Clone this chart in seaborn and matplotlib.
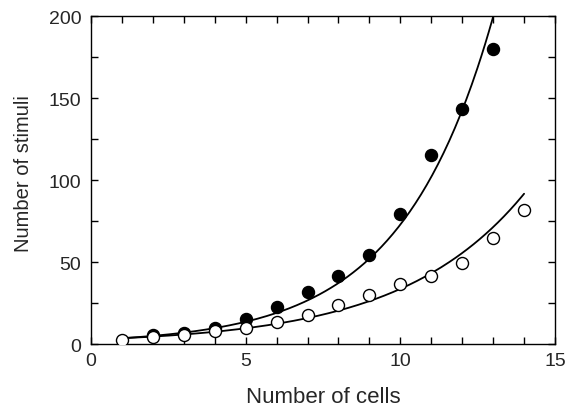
import numpy as np
import pandas as pd
import matplotlib
matplotlib.use("Agg")
import matplotlib.pyplot as plt
import seaborn as sns
from matplotlib.ticker import MultipleLocator

# Data
cells_filled = [2, 3, 4, 5, 6, 7, 8, 9, 10, 11, 12, 13]
stimuli_filled = [5.5, 7, 10, 15.5, 22.5, 31.5, 41.5, 54.5, 79.5, 115, 143, 180]
cells_open = [1, 2, 3, 4, 5, 6, 7, 8, 9, 10, 11, 12, 13, 14]
stimuli_open = [2.4, 4, 5.3, 8, 10, 13.3, 17.5, 23.7, 29.8, 36.5, 41.6, 49.5, 64.8, 82]

# Exponential fit curves y = a * exp(b * x), parameters
fit_filled_a, fit_filled_b, fit_filled_range = 2.53, 0.336, (1, 13.1)
fit_open_a, fit_open_b, fit_open_range = 2.74, 0.2507, (1, 14)

sns.set_theme(style="ticks")
plt.rcParams['font.family'] = ['Liberation Sans', 'DejaVu Sans']

fig = plt.figure(figsize=(5.66, 4.10), dpi=100)
ax = fig.add_axes([0.1608, 0.1585, 0.8198, 0.8000])

for a, b, (x0, x1) in [(fit_filled_a, fit_filled_b, fit_filled_range),
                       (fit_open_a, fit_open_b, fit_open_range)]:
    xs = np.linspace(x0, x1, 200)
    sns.lineplot(x=xs, y=a * np.exp(b * xs), ax=ax, color="black", lw=1.3, zorder=2)

df_f = pd.DataFrame({"x": cells_filled, "y": stimuli_filled})
df_o = pd.DataFrame({"x": cells_open, "y": stimuli_open})
sns.scatterplot(data=df_f, x="x", y="y", ax=ax, marker="o", s=75,
                color="black", edgecolor="black", linewidth=1, zorder=3)
sns.scatterplot(data=df_o, x="x", y="y", ax=ax, marker="o", s=75,
                color="white", edgecolor="black", linewidth=1, zorder=4)

ax.set_xlim(0, 15)
ax.set_ylim(0, 200)
ax.xaxis.set_major_locator(MultipleLocator(5))
ax.xaxis.set_minor_locator(MultipleLocator(1))
ax.yaxis.set_major_locator(MultipleLocator(50))
ax.yaxis.set_minor_locator(MultipleLocator(25))
ax.tick_params(which="both", direction="in", top=True, right=True,
               length=5, width=1, labelsize=14, color="black")
ax.tick_params(axis="y", which="major", pad=7)
ax.tick_params(axis="x", which="major", pad=6)
for s in ax.spines.values():
    s.set_linewidth(1)
    s.set_color("black")
    s.set_visible(True)
ax.set_xlabel("Number of cells", fontsize=16, labelpad=12)
ax.set_ylabel("Number of stimuli", fontsize=14.5, labelpad=11)
ax.yaxis.label.set_y(0.524)

fig.savefig("out.png", dpi=100)
